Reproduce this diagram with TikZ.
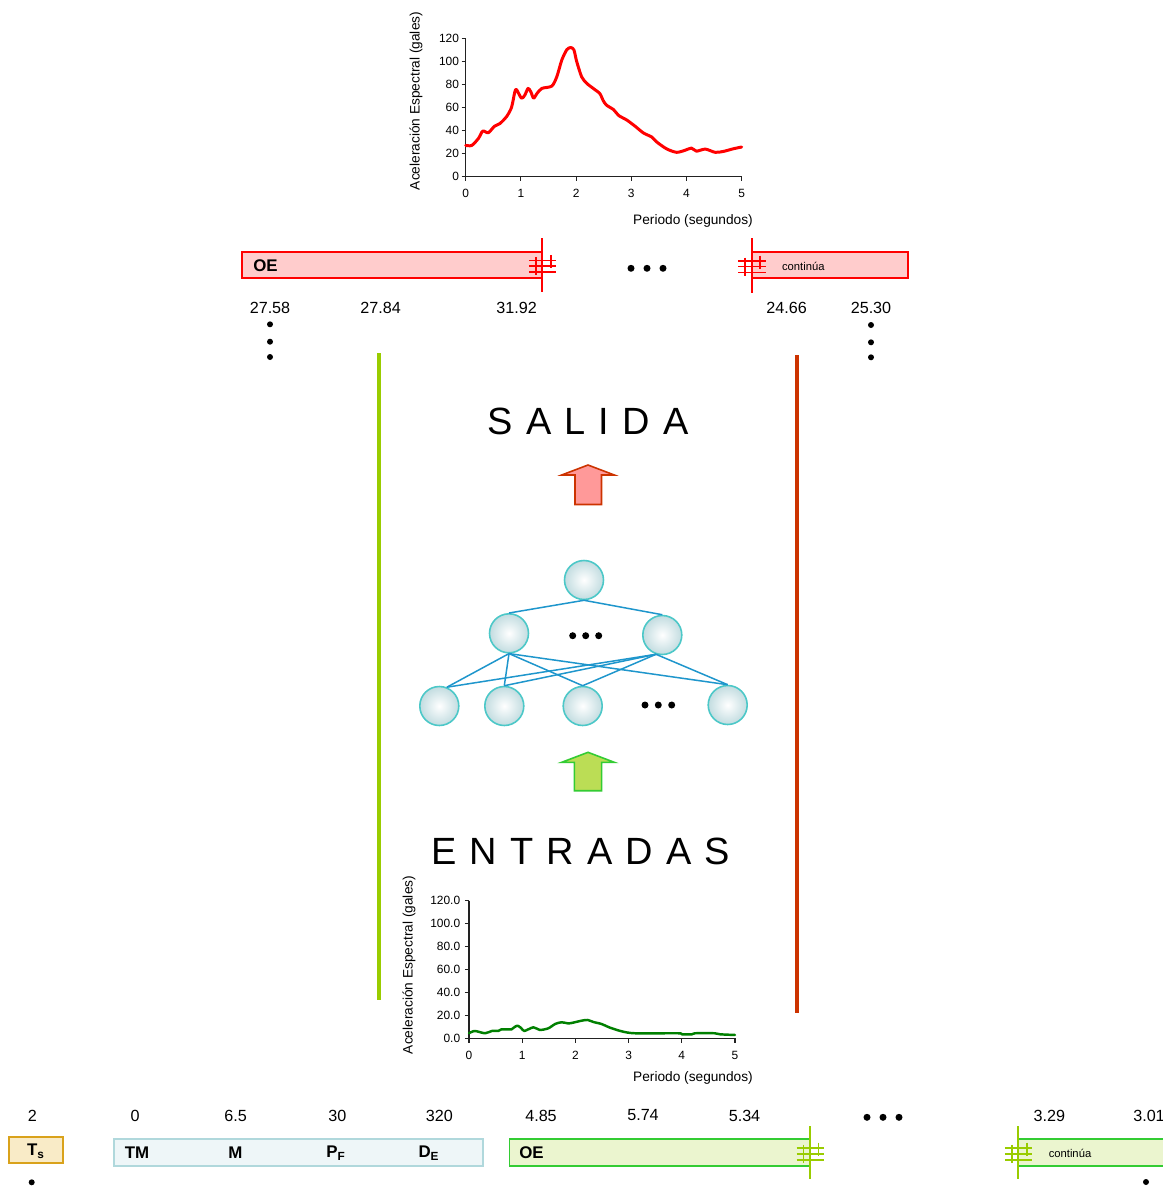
\documentclass[tikz,border=0pt]{standalone}
\usepackage{fontspec}
\setmainfont{Liberation Sans}
\definecolor{cred}{HTML}{FF0000}
\definecolor{pinkfill}{HTML}{FFCCCC}
\definecolor{lgreen}{HTML}{99CC00}
\definecolor{rbrown}{HTML}{CC3300}
\definecolor{arrred}{HTML}{FF9999}
\definecolor{arrgreen}{HTML}{BBDD55}
\definecolor{arrgreenb}{HTML}{33CC33}
\definecolor{nlink}{HTML}{1E96CC}
\definecolor{nbord}{HTML}{4CC8C8}
\definecolor{nfill}{HTML}{C2DCE0}
\definecolor{dgreen}{HTML}{008000}
\definecolor{tsfill}{HTML}{F9EBC7}
\definecolor{tsbord}{HTML}{D9A21B}
\definecolor{tmfill}{HTML}{EEF6F8}
\definecolor{tmbord}{HTML}{B0D8DC}
\definecolor{gfill}{HTML}{EBF5CF}
\definecolor{axcol}{HTML}{222222}
\newcommand{\hashmk}[4]{%
  \draw[#4, line width=1.1pt] (#1-13.5,#2-4.5) -- (#1+14,#2-4.5)
    (#1-13.5,#2+1) -- (#1+14,#2+1) (#1-13.5,#2+7) -- (#1+14,#2+7)
    (#1-6.5,#2-8) -- (#1-6.5,#2+10) (#1+8.5,#2-10) -- (#1+8.5,#2+3);
  \draw[#4, line width=1.1pt] (#1,#3) -- (#1,2*#2-#3);}
\newcommand{\spc}{\hspace{7.5pt}}
\begin{document}
\begin{tikzpicture}[x=0.02cm,y=-0.02cm,
  tick/.style={font=\fontsize{6.8}{7}\selectfont, inner sep=0pt},
  axtitle/.style={font=\fontsize{7.8}{9}\selectfont, inner sep=0pt},
  num/.style={font=\fontsize{9.2}{10}\selectfont, inner sep=0pt},
  lbl/.style={font=\bfseries\fontsize{9.6}{10}\selectfont, inner sep=0pt},
  small/.style={font=\fontsize{6.4}{7}\selectfont, inner sep=0pt},
  dot/.style={circle, fill=black, inner sep=0pt, minimum size=0.12cm},
  ndot/.style={circle, fill=black, inner sep=0pt, minimum size=0.14cm},
  neuron/.style={circle, draw=nbord, line width=0.9pt, inner color=white, outer color=nfill, minimum size=0.78cm, inner sep=0pt},
  link/.style={draw=nlink, line width=0.85pt},
  big/.style={font=\fontsize{21.6}{24}\selectfont, inner sep=0pt},
  axis/.style={draw=axcol, line width=0.6pt},
]
\clip (0,0) rectangle (1163,1188);
\fill[white] (0,0) rectangle (1163,1188);

% ---------- top chart ----------
\draw[axis] (465.7,38.3) -- (465.7,176.5) -- (741.7,176.5);
\foreach \v in {0,20,...,120} {
  \pgfmathsetmacro\yy{176.5-1.1517*\v}
  \draw[axis] (461.5,\yy) -- (465.7,\yy);
  \node[tick, anchor=east] (tyt\v) at (459.3,\yy) {\v};
}
\foreach \u in {0,...,5} {
  \pgfmathsetmacro\xx{465.7+55.2*\u}
  \draw[axis] (\xx,176.5) -- (\xx,180.7);
  \node[tick] (txt\u) at (\xx,193) {\u};
}
\begin{scope}[shift={(465.7,176.5)}, xscale=55.2, yscale=-1.1517]
  \draw[cred, line width=1.7pt, line join=round, line cap=round] plot[smooth, tension=0.45] coordinates {
    (0,27) (0.11,27) (0.23,33) (0.31,39.5) (0.41,38) (0.52,43.6) (0.62,46) (0.74,52)
    (0.83,60) (0.89,73.5) (0.92,75.5) (1.01,68) (1.07,70.6) (1.13,76.5) (1.18,73.5)
    (1.23,68) (1.29,72) (1.38,76.5) (1.56,78.5) (1.65,86.6) (1.74,101) (1.83,110)
    (1.90,112) (1.96,110) (2.01,100) (2.10,86.6) (2.19,81) (2.31,76.5) (2.43,72)
    (2.49,66) (2.55,62) (2.68,58) (2.77,53) (2.92,49) (3.07,43.6) (3.22,37.8)
    (3.37,34.3) (3.46,30) (3.64,24) (3.82,21) (3.97,22.7) (4.09,24.7) (4.18,22)
    (4.34,23.8) (4.52,21) (4.67,21.8) (4.85,24.1) (5,25.6)};
\end{scope}
\node[axtitle, rotate=90] (tyl) at (416,101) {Aceleración Espectral (gales)};
\node[axtitle] (txl) at (693,221) {Periodo (segundos)};

% ---------- top OE bars ----------
\draw[cred, line width=1.1pt, fill=pinkfill] (242.3,251.7) rectangle (542.3,278.3);
\draw[cred, line width=1.1pt, fill=pinkfill] (751.7,252.3) rectangle (908.3,278.3);
\hashmk{542.3}{265}{238.3}{cred}
\hashmk{751.7}{265.5}{238.3}{cred}
\node[lbl, anchor=west] (oe1) at (253,265.5) {OE};
\node[small] (cont1) at (803.3,266.7) {continúa};
\node[ndot] (td1) at (631,268.3) {};
\node[ndot] (td2) at (647,268.3) {};
\node[ndot] (td3) at (663,268.3) {};
\node[num] (n1) at (270,307.7) {27.58};
\node[num] (n2) at (380.7,307.7) {27.84};
\node[num] (n3) at (516.7,307.7) {31.92};
\node[num] (n4) at (786.7,307.7) {24.66};
\node[num] (n5) at (871,307.7) {25.30};
\node[dot] (ld1) at (270,324.3) {};
\node[dot] (ld2) at (270,341.7) {};
\node[dot] (ld3) at (270,357) {};
\node[dot] (rd1) at (871,325) {};
\node[dot] (rd2) at (871,342.3) {};
\node[dot] (rd3) at (871,357.3) {};

% ---------- side lines ----------
\draw[lgreen, line width=2.4pt] (379.3,353.3) -- (379.3,999.5);
\draw[rbrown, line width=2.4pt] (796.7,355) -- (796.7,1013);

% ---------- titles ----------
\node[big] (salida) at (588,421.3) {S\spc A\spc L\spc I\spc D\spc A};
\node[big] (entradas) at (580.5,851) {E\spc N\spc T\spc R\spc A\spc D\spc A\spc S};

% ---------- arrows ----------
\draw[rbrown, line width=0.9pt, fill=arrred, line join=miter]
  (588,465) -- (614.3,475) -- (601.5,475) -- (601.5,504.5) -- (575,504.5) -- (575,475) -- (561.7,475) -- cycle;
\draw[arrgreenb, line width=0.9pt, fill=arrgreen, line join=miter]
  (588,752.3) -- (614.3,762.3) -- (601.7,762.3) -- (601.7,790.7) -- (574.3,790.7) -- (574.3,762.3) -- (561.7,762.3) -- cycle;

% ---------- network ----------
\node[neuron] (t) at (584,580) {};
\node[neuron] (h1) at (509,633.3) {};
\node[neuron] (h2) at (662.3,635) {};
\node[neuron] (i1) at (439.3,706) {};
\node[neuron] (i2) at (504.3,706) {};
\node[neuron] (i3) at (582.7,706) {};
\node[neuron] (i5) at (727.7,705) {};
\draw[link] (t.south) -- (h1.north);
\draw[link] (t.south) -- (h2.north);
\foreach \h/\a in {h1/south, h2/252} {
  \draw[link] (\h.\a) -- (i1.68);
  \draw[link] (\h.\a) -- (i2.north);
  \draw[link] (\h.\a) -- (i3.north);
  \draw[link] (\h.\a) -- (i5.north);
}
\node[ndot] (md1) at (572.7,635.7) {};
\node[ndot] (md2) at (585.7,635.7) {};
\node[ndot] (md3) at (598.7,635.7) {};
\node[ndot] (bd1) at (645,705) {};
\node[ndot] (bd2) at (658.3,705) {};
\node[ndot] (bd3) at (671.7,705) {};

% ---------- bottom chart ----------
\draw[axis] (469,900.7) -- (469,1038.3) -- (735,1038.3);
\foreach \v/\t in {0/0.0,20/20.0,40/40.0,60/60.0,80/80.0,100/100.0,120/120.0} {
  \pgfmathsetmacro\yy{1038.3-1.1467*\v}
  \draw[axis] (464.8,\yy) -- (469,\yy);
  \node[tick, anchor=east] (byt\v) at (460.5,\yy) {\t};
}
\foreach \u in {0,...,5} {
  \pgfmathsetmacro\xx{469+53.2*\u}
  \draw[axis] (\xx,1038.3) -- (\xx,1042.5);
  \node[tick] (bxt\u) at (\xx,1055) {\u};
}
\begin{scope}[shift={(469,1038.3)}, xscale=53.2, yscale=-1.1467]
  \draw[dgreen, line width=1.4pt, line join=round, line cap=round] plot[smooth, tension=0.45] coordinates {
    (0,4.4) (0.11,6.4) (0.30,4.4) (0.43,6.4) (0.55,6.4) (0.61,7.8) (0.80,7.8) (0.85,9.6)
    (0.91,11) (0.98,9) (1.04,6.4) (1.21,9.6) (1.33,7.3) (1.49,8.7) (1.62,12.5) (1.74,14)
    (1.87,13) (1.96,13.7) (2.12,15.4) (2.23,16) (2.34,14.2) (2.49,12.5) (2.65,9.3)
    (2.87,6.1) (3.12,4.4) (3.93,4.4) (4.0,3.5) (4.19,3.5) (4.25,4.4) (4.62,4.4)
    (4.72,3.5) (5,2.9)};
\end{scope}
\node[axtitle, rotate=90] (byl) at (409,965) {Aceleración Espectral (gales)};
\node[axtitle] (bxl) at (693,1078) {Periodo (segundos)};

% ---------- bottom inputs ----------
\draw[tsbord, line width=1.1pt, fill=tsfill] (9.3,1137.3) rectangle (62.7,1163.3);
\node[lbl] (ts) at (36,1151) {T\textsubscript{s}};
\draw[tmbord, line width=1pt, fill=tmfill] (114.3,1139.3) rectangle (483.3,1166);
\node[lbl] (tm) at (137,1152.5) {TM};
\node[lbl] (mm) at (235.5,1152.5) {M};
\node[lbl] (pf) at (336,1153) {P\textsubscript{F}};
\node[lbl] (de) at (429,1153) {D\textsubscript{E}};
\node[num] (b0) at (32.3,1115.5) {2};
\node[num] (b1) at (135,1115.5) {0};
\node[num] (b2) at (235.7,1115.5) {6.5};
\node[num] (b3) at (337.3,1115.5) {30};
\node[num] (b4) at (439.3,1115.5) {320};
\node[num] (b5) at (541,1115.5) {4.85};
\node[num] (b6) at (643,1115.5) {5.74};
\node[num] (b7) at (744.5,1115.5) {5.34};
\node[num] (b8) at (1049.3,1115.5) {3.29};
\node[num] (b9) at (1149,1115.5) {3.01};
\node[dot] (tsd) at (31.7,1182.3) {};
\node[dot] (rgd) at (1146,1182) {};
\draw[arrgreenb, line width=1.1pt, fill=gfill] (509.5,1139.3) rectangle (810,1166);
\draw[arrgreenb, line width=1.1pt, fill=gfill] (1018.3,1139.3) rectangle (1175,1166);
\hashmk{810}{1152.7}{1126}{lgreen}
\hashmk{1018.3}{1152.7}{1126}{lgreen}
\node[lbl, anchor=west] (oe2) at (519,1152.7) {OE};
\node[small] (cont2) at (1070,1153.3) {continúa};
\node[ndot] (gd1) at (867,1117.3) {};
\node[ndot] (gd2) at (883,1117.3) {};
\node[ndot] (gd3) at (899,1117.3) {};
\end{tikzpicture}
\end{document}
